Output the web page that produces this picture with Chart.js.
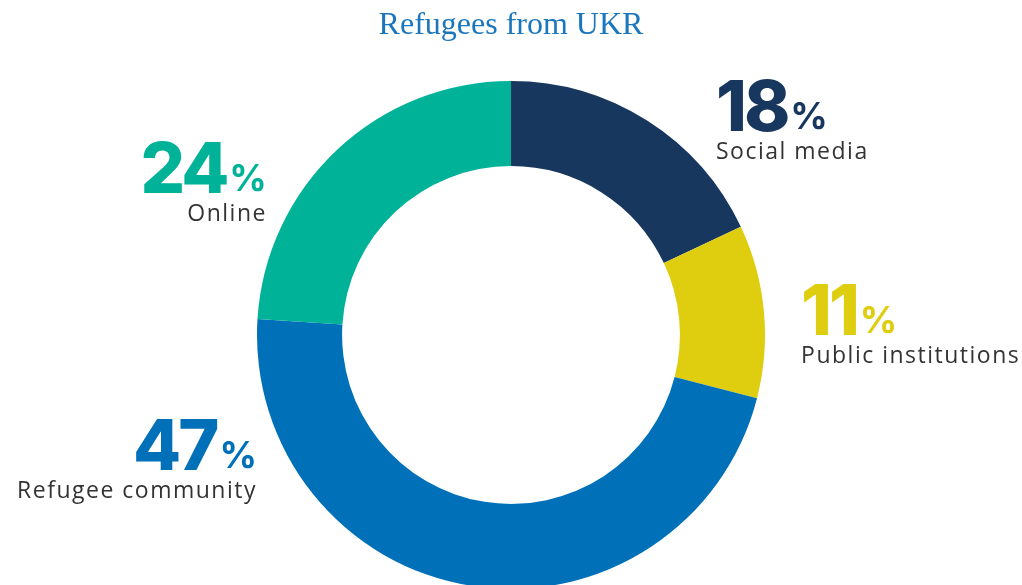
<!DOCTYPE html>
<html>
<head>
<meta charset="utf-8">
<script src="https://cdn.jsdelivr.net/npm/chart.js@4"></script>
<style>
  html, body { margin: 0; padding: 0; background: #fff; overflow: hidden; }
  #wrap { position: relative; width: 1022px; height: 589px; }
</style>
</head>
<body>
<div id="wrap"><canvas id="chart"></canvas></div>
<script>
const CATEGORIES = ['Social media', 'Public institutions', 'Refugee community', 'Online'];
const SHARES = [18, 11, 47, 24]; // percent
const COLORS = ['#17375e', '#dfcd0f', '#0071b8', '#00b398'];

// where each label sits, as fractions of the outer radius from the centre
// side: 'left' means the text block grows to the right of the anchor
const labelPlacement = [
  {dx: 0.807, dy: -0.803, side: 'left'},
  {dx: 1.142, dy: 0.0, side: 'left'},
  {dx: -1.0, dy: 0.531, side: 'right'},
  {dx: -0.961, dy: -0.559, side: 'right'},
];

const NUM_FONT = '800 70px Inter, "Noto Sans", sans-serif';
const PCT_FONT = '700 37px Inter, "Noto Sans", sans-serif';
const TXT_FONT = '400 23px "Open Sans", "Noto Sans", sans-serif';

const data = {
  labels: CATEGORIES,
  datasets: [{
    data: SHARES,
    backgroundColor: COLORS,
    borderWidth: 0,
    hoverOffset: 0,
    offset: 0,
  }]
};

const sliceLabels = {
  id: 'sliceLabels',
  afterDraw: (chart) => {
    const {ctx} = chart;
    const meta = chart.getDatasetMeta(0);
    meta.data.forEach((arc, i) => {
      const {x, y, outerRadius} = arc.getProps(['x', 'y', 'outerRadius'], true);
      const p = labelPlacement[i];
      const ax = x + p.dx * outerRadius;
      const ay = y + p.dy * outerRadius;
      const num = String(SHARES[i]);

      ctx.save();
      ctx.textBaseline = 'alphabetic';
      ctx.textAlign = 'left';

      ctx.font = NUM_FONT;
      ctx.letterSpacing = '-3px';
      const numW = ctx.measureText(num).width;
      ctx.font = PCT_FONT;
      ctx.letterSpacing = '0px';
      const pctW = ctx.measureText('%').width;
      const gap = 3;
      const total = numW + gap + pctW;
      const startX = p.side === 'left' ? ax : ax - total;

      ctx.fillStyle = COLORS[i];
      ctx.font = NUM_FONT;
      ctx.letterSpacing = '-3px';
      ctx.fillText(num, startX, ay);
      ctx.font = PCT_FONT;
      ctx.letterSpacing = '0px';
      ctx.fillText('%', startX + numW + gap, ay - 2);

      ctx.font = TXT_FONT;
      ctx.letterSpacing = '1.5px';
      ctx.fillStyle = '#333333';
      ctx.textAlign = p.side === 'left' ? 'left' : 'right';
      ctx.fillText(CATEGORIES[i], ax, ay + 28);
      ctx.restore();
    });
  }
};

const options = {
  responsive: true,
  maintainAspectRatio: false,
  animation: false,
  cutout: '66.5%',
  rotation: 0,
  layout: { padding: 0 },
  plugins: {
    legend: { display: false },
    tooltip: { enabled: false },
    title: {
      display: true,
      text: 'Refugees from UKR',
      color: '#1a76bd',
      font: { family: '"Liberation Serif", "Times New Roman", serif', size: 32, weight: 'normal', lineHeight: 1.2 },
      padding: { top: 6, bottom: 36.6 }
    }
  }
};

const config = {
  type: 'doughnut',
  data,
  options,
  plugins: [sliceLabels],
};

const $chart = document.getElementById('chart');
const chart = new Chart($chart, config);
</script>
</body>
</html>
